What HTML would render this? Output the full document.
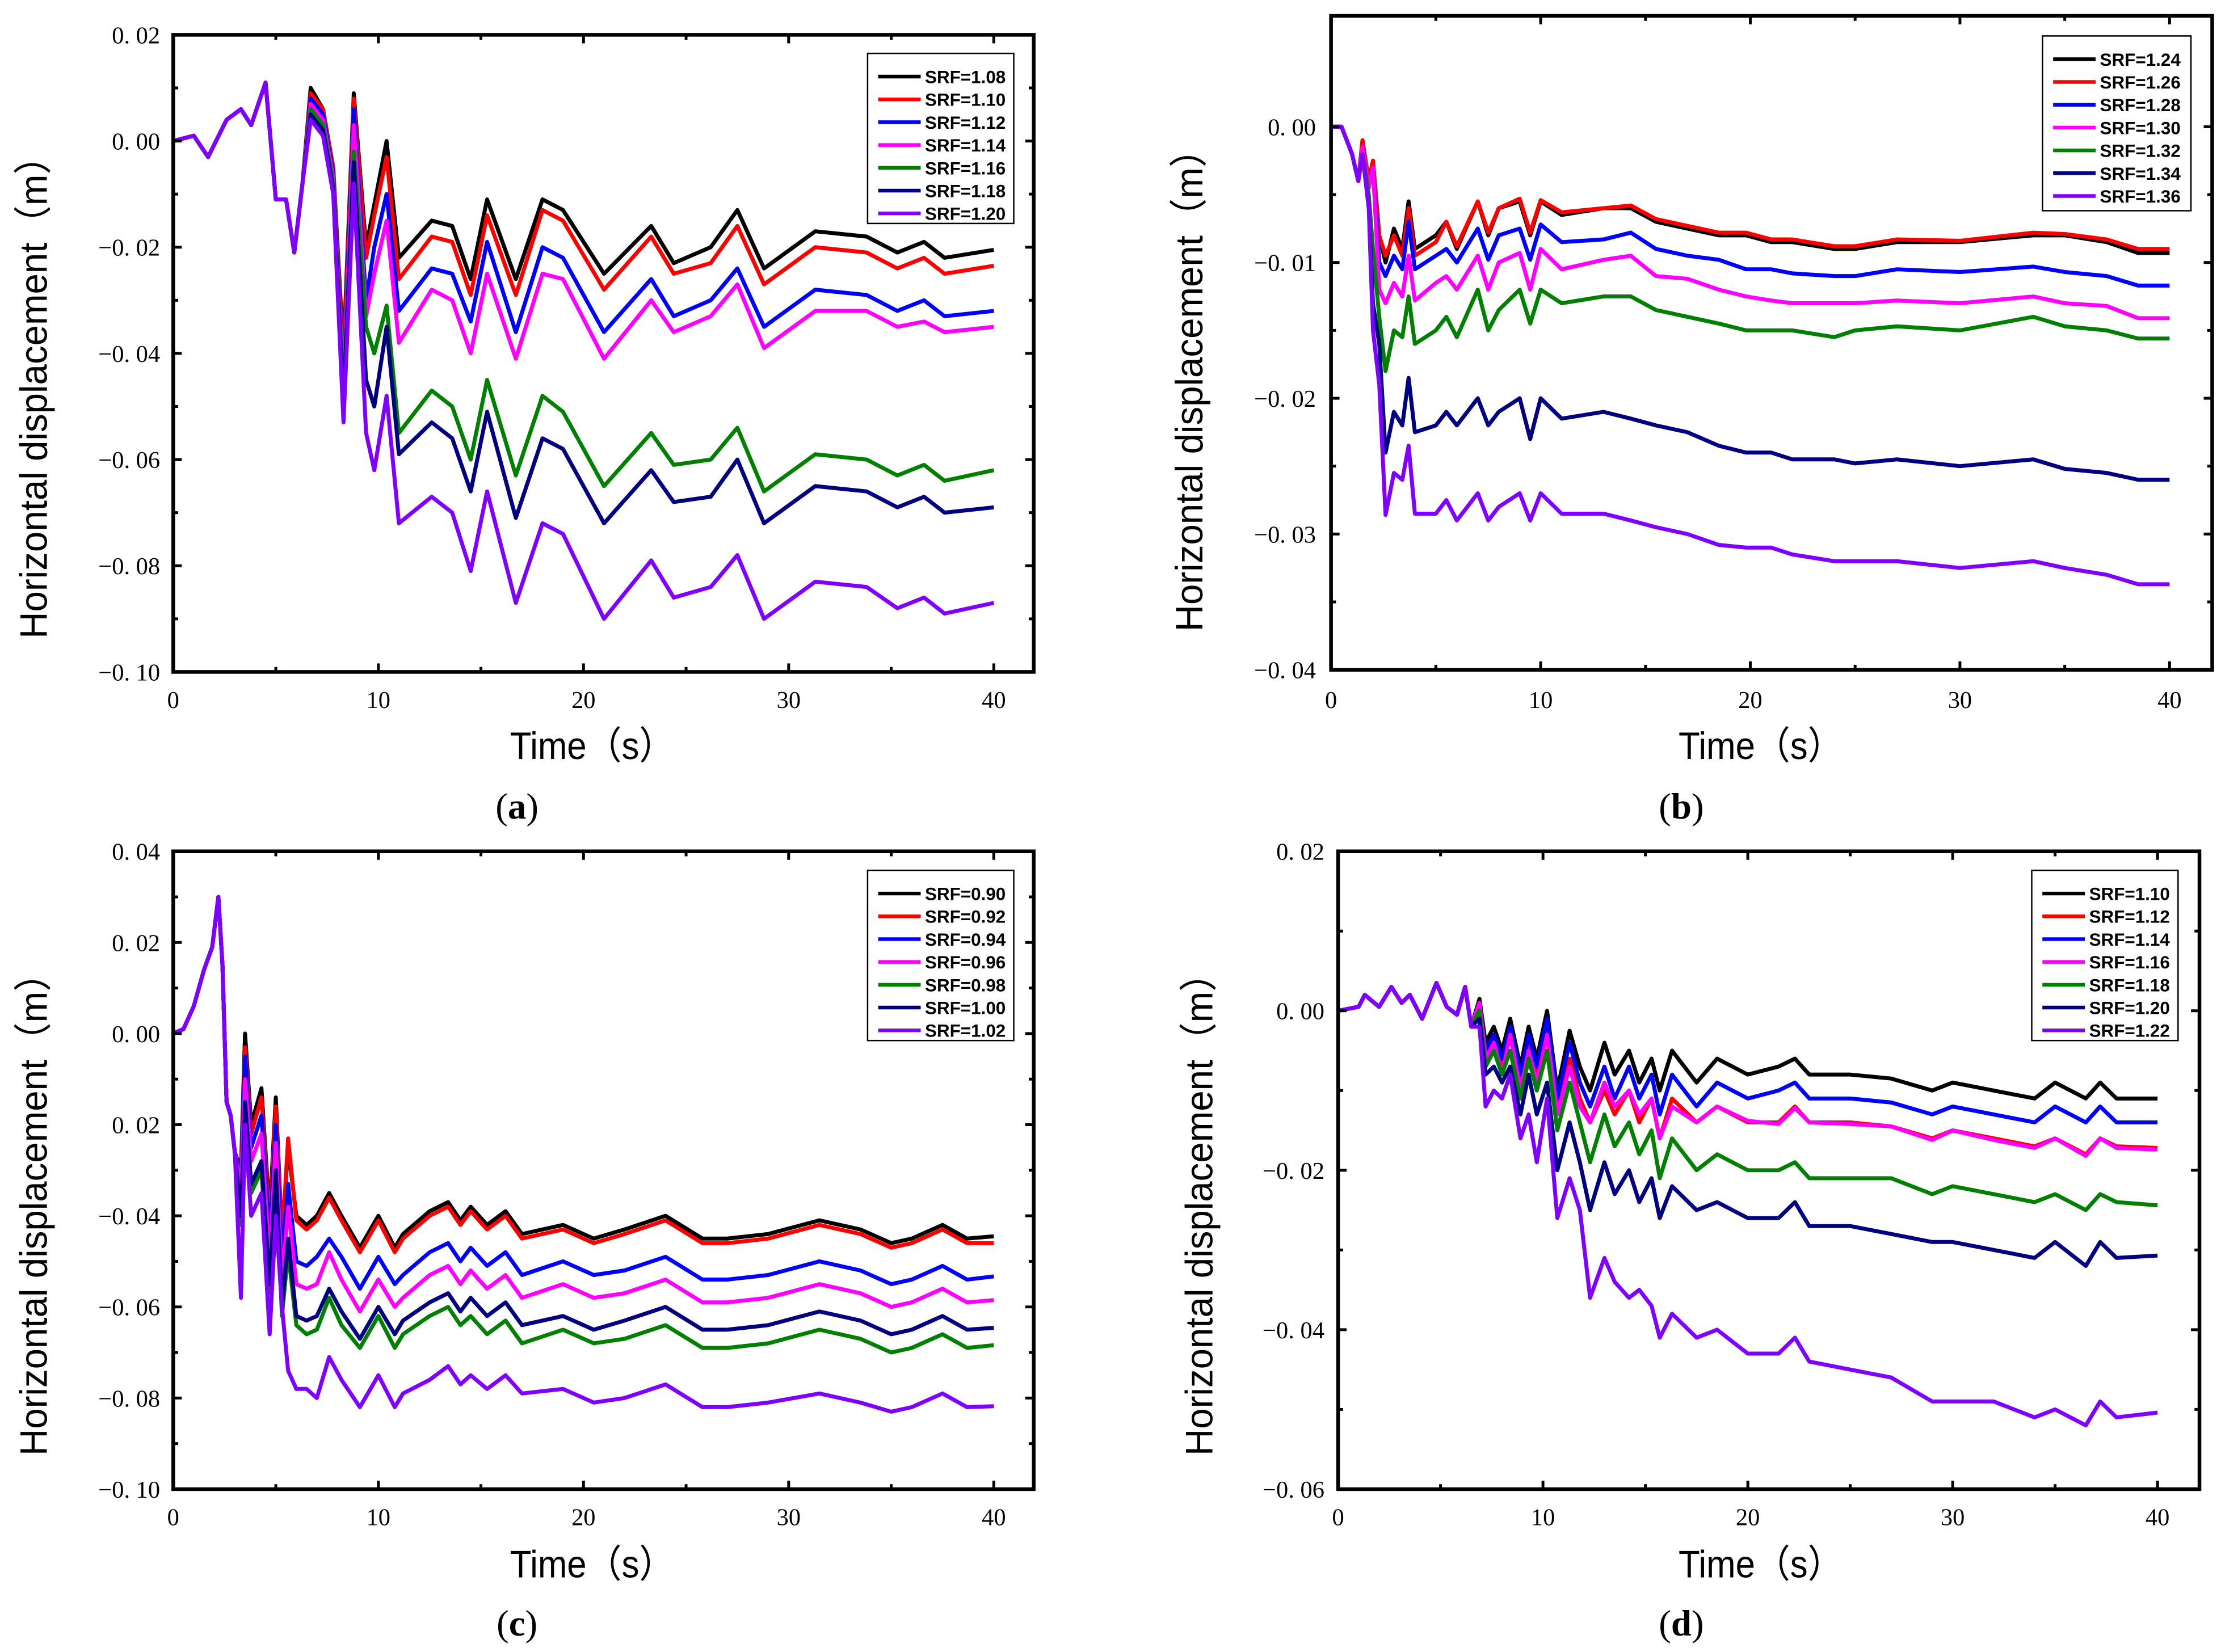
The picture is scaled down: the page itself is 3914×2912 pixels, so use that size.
<!DOCTYPE html>
<html><head><meta charset="utf-8"><style>
html,body{margin:0;padding:0;background:#fff;}
svg{display:block;}
</style></head><body>
<svg id="fig" xmlns="http://www.w3.org/2000/svg" width="3914" height="2912" viewBox="0 0 1568 1166.6">
<rect x="0" y="0" width="1568" height="1166.6" fill="#fff"/>
</svg>
<script>
// ---------- DATA ----------
const colors = ["#000000","#ff0000","#0000ff","#ff00ff","#008000","#000080","#8000ff"];

const labelsA = ["SRF=1.08","SRF=1.10","SRF=1.12","SRF=1.14","SRF=1.16","SRF=1.18","SRF=1.20"];
const timeA = [0,1,1.7,2.6,3.3,3.8,4.5,5.0,5.5,5.9,6.3,6.7,7.3,7.8,8.3,8.8,9.4,9.8,10.4,11.0,12.6,13.6,14.5,15.3,16.7,18.0,19.0,21.0,23.3,24.4,26.2,27.5,28.8,31.3,33.8,35.3,36.6,37.6,40];
const a108 = [0,0.001,-0.003,0.004,0.006,0.003,0.011,-0.011,-0.011,-0.021,-0.008,0.010,0.006,-0.005,-0.040,0.009,-0.020,-0.012,0.000,-0.022,-0.015,-0.016,-0.026,-0.011,-0.026,-0.011,-0.013,-0.025,-0.016,-0.023,-0.020,-0.013,-0.024,-0.017,-0.018,-0.021,-0.019,-0.022,-0.0205];
const a110 = [0,0.001,-0.003,0.004,0.006,0.003,0.011,-0.011,-0.011,-0.021,-0.008,0.009,0.006,-0.005,-0.042,0.008,-0.022,-0.014,-0.003,-0.026,-0.018,-0.019,-0.029,-0.014,-0.029,-0.013,-0.015,-0.028,-0.018,-0.025,-0.023,-0.016,-0.027,-0.020,-0.021,-0.024,-0.022,-0.025,-0.0235];
const a112 = [0,0.001,-0.003,0.004,0.006,0.003,0.011,-0.011,-0.011,-0.021,-0.008,0.008,0.005,-0.006,-0.045,0.006,-0.030,-0.020,-0.010,-0.032,-0.024,-0.025,-0.034,-0.019,-0.036,-0.020,-0.022,-0.036,-0.026,-0.033,-0.030,-0.024,-0.035,-0.028,-0.029,-0.032,-0.030,-0.033,-0.032];
const a114 = [0,0.001,-0.003,0.004,0.006,0.003,0.011,-0.011,-0.011,-0.021,-0.008,0.007,0.004,-0.007,-0.046,0.003,-0.033,-0.025,-0.015,-0.038,-0.028,-0.030,-0.040,-0.025,-0.041,-0.025,-0.026,-0.041,-0.030,-0.036,-0.033,-0.027,-0.039,-0.032,-0.032,-0.035,-0.034,-0.036,-0.035];
const a116 = [0,0.001,-0.003,0.004,0.006,0.003,0.011,-0.011,-0.011,-0.021,-0.008,0.006,0.003,-0.008,-0.048,-0.002,-0.035,-0.040,-0.031,-0.055,-0.047,-0.050,-0.060,-0.045,-0.063,-0.048,-0.051,-0.065,-0.055,-0.061,-0.060,-0.054,-0.066,-0.059,-0.060,-0.063,-0.061,-0.064,-0.062];
const a118 = [0,0.001,-0.003,0.004,0.006,0.003,0.011,-0.011,-0.011,-0.021,-0.008,0.005,0.002,-0.009,-0.050,-0.004,-0.045,-0.050,-0.035,-0.059,-0.053,-0.056,-0.066,-0.051,-0.071,-0.056,-0.058,-0.072,-0.062,-0.068,-0.067,-0.060,-0.072,-0.065,-0.066,-0.069,-0.067,-0.070,-0.069];
const a120 = [0,0.001,-0.003,0.004,0.006,0.003,0.011,-0.011,-0.011,-0.021,-0.008,0.004,0.001,-0.010,-0.053,-0.008,-0.055,-0.062,-0.048,-0.072,-0.067,-0.070,-0.081,-0.066,-0.087,-0.072,-0.074,-0.090,-0.079,-0.086,-0.084,-0.078,-0.090,-0.083,-0.084,-0.088,-0.086,-0.089,-0.087];

const labelsB = ["SRF=1.24","SRF=1.26","SRF=1.28","SRF=1.30","SRF=1.32","SRF=1.34","SRF=1.36"];
const timeB = [0,0.5,1.0,1.3,1.5,1.8,2.0,2.3,2.6,3.0,3.4,3.7,4.0,5.0,5.5,6.0,7.0,7.5,8.0,9.0,9.5,10.0,11,13,14.3,15.5,17,18.5,19.8,21,22,24,25,27,30,33.5,35,37,38.5,40];
const b124 = [0,0,-0.002,-0.004,-0.001,-0.004,-0.0025,-0.008,-0.010,-0.0075,-0.009,-0.0055,-0.009,-0.008,-0.007,-0.009,-0.0055,-0.008,-0.006,-0.0055,-0.008,-0.0055,-0.0065,-0.006,-0.006,-0.007,-0.0075,-0.008,-0.008,-0.0085,-0.0085,-0.009,-0.009,-0.0085,-0.0085,-0.008,-0.008,-0.0085,-0.0093,-0.0093];
const b126 = [0,0,-0.002,-0.004,-0.001,-0.004,-0.0025,-0.008,-0.0095,-0.008,-0.0095,-0.006,-0.0095,-0.0085,-0.007,-0.0088,-0.0055,-0.0078,-0.006,-0.0053,-0.0078,-0.0054,-0.0063,-0.006,-0.0058,-0.0068,-0.0073,-0.0078,-0.0078,-0.0083,-0.0083,-0.0088,-0.0088,-0.0083,-0.0084,-0.0078,-0.0079,-0.0083,-0.009,-0.009];
const b128 = [0,0,-0.002,-0.004,-0.0015,-0.0045,-0.003,-0.010,-0.011,-0.0095,-0.0105,-0.007,-0.0105,-0.0095,-0.009,-0.010,-0.0075,-0.0098,-0.008,-0.0075,-0.0098,-0.0072,-0.0085,-0.0083,-0.0078,-0.009,-0.0095,-0.0098,-0.0105,-0.0105,-0.0108,-0.011,-0.011,-0.0105,-0.0107,-0.0103,-0.0107,-0.011,-0.0117,-0.0117];
const b130 = [0,0,-0.002,-0.004,-0.0015,-0.0045,-0.003,-0.012,-0.013,-0.0115,-0.0125,-0.0095,-0.0128,-0.0115,-0.011,-0.012,-0.0095,-0.012,-0.010,-0.0093,-0.012,-0.009,-0.0105,-0.0098,-0.0095,-0.011,-0.0112,-0.012,-0.0125,-0.0128,-0.013,-0.013,-0.013,-0.0128,-0.013,-0.0125,-0.013,-0.0132,-0.0141,-0.0141];
const b132 = [0,0,-0.002,-0.004,-0.002,-0.005,-0.009,-0.014,-0.018,-0.015,-0.0155,-0.0125,-0.016,-0.015,-0.014,-0.0155,-0.012,-0.015,-0.0135,-0.012,-0.0145,-0.012,-0.013,-0.0125,-0.0125,-0.0135,-0.014,-0.0145,-0.015,-0.015,-0.015,-0.0155,-0.015,-0.0147,-0.015,-0.014,-0.0147,-0.015,-0.0156,-0.0156];
const b134 = [0,0,-0.002,-0.004,-0.002,-0.006,-0.013,-0.016,-0.024,-0.021,-0.022,-0.0185,-0.0225,-0.022,-0.021,-0.022,-0.020,-0.022,-0.021,-0.020,-0.023,-0.020,-0.0215,-0.021,-0.0215,-0.022,-0.0225,-0.0235,-0.024,-0.024,-0.0245,-0.0245,-0.0248,-0.0245,-0.025,-0.0245,-0.0252,-0.0255,-0.026,-0.026];
const b136 = [0,0,-0.002,-0.004,-0.002,-0.006,-0.015,-0.019,-0.0286,-0.0255,-0.026,-0.0235,-0.0285,-0.0285,-0.0275,-0.029,-0.027,-0.029,-0.028,-0.027,-0.029,-0.027,-0.0285,-0.0285,-0.029,-0.0295,-0.030,-0.0308,-0.031,-0.031,-0.0315,-0.032,-0.032,-0.032,-0.0325,-0.032,-0.0325,-0.033,-0.0337,-0.0337];

const labelsC = ["SRF=0.90","SRF=0.92","SRF=0.94","SRF=0.96","SRF=0.98","SRF=1.00","SRF=1.02"];
const timeC = [0,0.5,1.0,1.5,1.9,2.2,2.4,2.6,2.8,3.0,3.3,3.5,3.8,4.3,4.7,5.0,5.3,5.6,6.0,6.5,7.0,7.6,8.2,9.1,10.0,10.8,11.2,12.5,13.4,14.0,14.5,15.3,16.2,17.0,19.0,20.5,22.0,24.0,25.8,27.0,29.0,31.5,33.5,35.0,36.0,37.5,38.7,40];
const c090 = [0,0.001,0.006,0.014,0.019,0.030,0.015,-0.015,-0.018,-0.026,-0.030,0.000,-0.020,-0.012,-0.040,-0.014,-0.045,-0.025,-0.040,-0.042,-0.040,-0.035,-0.040,-0.047,-0.040,-0.047,-0.044,-0.039,-0.037,-0.041,-0.038,-0.042,-0.039,-0.044,-0.042,-0.045,-0.043,-0.040,-0.045,-0.045,-0.044,-0.041,-0.043,-0.046,-0.045,-0.042,-0.045,-0.0445];
const c092 = [0,0.001,0.006,0.014,0.019,0.030,0.015,-0.015,-0.018,-0.026,-0.031,-0.003,-0.022,-0.014,-0.042,-0.016,-0.046,-0.023,-0.041,-0.043,-0.041,-0.036,-0.041,-0.048,-0.041,-0.048,-0.045,-0.040,-0.038,-0.042,-0.039,-0.043,-0.040,-0.045,-0.043,-0.046,-0.044,-0.041,-0.046,-0.046,-0.045,-0.042,-0.044,-0.047,-0.046,-0.043,-0.046,-0.046];
const c094 = [0,0.001,0.006,0.014,0.019,0.030,0.015,-0.015,-0.018,-0.026,-0.032,-0.005,-0.025,-0.018,-0.045,-0.020,-0.050,-0.033,-0.050,-0.051,-0.049,-0.045,-0.049,-0.056,-0.049,-0.055,-0.053,-0.048,-0.046,-0.050,-0.047,-0.051,-0.048,-0.053,-0.050,-0.053,-0.052,-0.049,-0.054,-0.054,-0.053,-0.050,-0.052,-0.055,-0.054,-0.051,-0.054,-0.0533];
const c096 = [0,0.001,0.006,0.014,0.019,0.030,0.015,-0.015,-0.018,-0.026,-0.034,-0.010,-0.028,-0.022,-0.050,-0.024,-0.055,-0.038,-0.055,-0.056,-0.055,-0.048,-0.054,-0.061,-0.054,-0.060,-0.058,-0.053,-0.051,-0.055,-0.052,-0.056,-0.053,-0.058,-0.055,-0.058,-0.057,-0.054,-0.059,-0.059,-0.058,-0.055,-0.057,-0.060,-0.059,-0.056,-0.059,-0.0585];
const c098 = [0,0.001,0.006,0.014,0.019,0.030,0.015,-0.015,-0.018,-0.026,-0.042,-0.018,-0.035,-0.030,-0.057,-0.032,-0.062,-0.048,-0.064,-0.066,-0.065,-0.058,-0.064,-0.069,-0.062,-0.069,-0.066,-0.062,-0.060,-0.064,-0.062,-0.066,-0.063,-0.068,-0.065,-0.068,-0.067,-0.064,-0.069,-0.069,-0.068,-0.065,-0.067,-0.070,-0.069,-0.066,-0.069,-0.0684];
const c100 = [0,0.001,0.006,0.014,0.019,0.030,0.015,-0.015,-0.018,-0.026,-0.040,-0.015,-0.033,-0.028,-0.055,-0.030,-0.060,-0.045,-0.062,-0.063,-0.062,-0.056,-0.061,-0.067,-0.060,-0.066,-0.063,-0.059,-0.057,-0.061,-0.058,-0.062,-0.059,-0.064,-0.062,-0.065,-0.063,-0.060,-0.065,-0.065,-0.064,-0.061,-0.063,-0.066,-0.065,-0.062,-0.065,-0.0646];
const c102 = [0,0.001,0.006,0.014,0.019,0.030,0.015,-0.015,-0.018,-0.026,-0.058,-0.020,-0.040,-0.035,-0.066,-0.040,-0.060,-0.074,-0.078,-0.078,-0.080,-0.071,-0.076,-0.082,-0.075,-0.082,-0.079,-0.076,-0.073,-0.077,-0.075,-0.078,-0.075,-0.079,-0.078,-0.081,-0.080,-0.077,-0.082,-0.082,-0.081,-0.079,-0.081,-0.083,-0.082,-0.079,-0.082,-0.0818];

const labelsD = ["SRF=1.10","SRF=1.12","SRF=1.14","SRF=1.16","SRF=1.18","SRF=1.20","SRF=1.22"];
const timeD = [0,1.0,1.3,2.0,2.6,3.1,3.5,4.1,4.8,5.3,5.8,6.2,6.5,6.9,7.2,7.6,8.0,8.4,8.9,9.3,9.7,10.2,10.7,11.3,11.8,12.3,13.0,13.5,14.2,14.7,15.3,15.7,16.3,17.5,18.5,20,21.5,22.3,23,25,27,29,30,32,34,35,36.5,37.2,38,40];
const d110 = [0,0.0005,0.002,0.0005,0.003,0.001,0.002,-0.001,0.0035,0.0005,-0.0005,0.003,-0.002,0.0015,-0.004,-0.002,-0.005,-0.001,-0.007,-0.002,-0.006,0.000,-0.010,-0.0025,-0.007,-0.010,-0.004,-0.008,-0.005,-0.009,-0.006,-0.010,-0.005,-0.009,-0.006,-0.008,-0.007,-0.006,-0.008,-0.008,-0.0085,-0.010,-0.009,-0.010,-0.011,-0.009,-0.011,-0.009,-0.011,-0.011];
const d112 = [0,0.0005,0.002,0.0005,0.003,0.001,0.002,-0.001,0.0035,0.0005,-0.0005,0.003,-0.002,0.001,-0.005,-0.003,-0.007,-0.003,-0.009,-0.004,-0.008,-0.002,-0.012,-0.006,-0.011,-0.014,-0.010,-0.013,-0.010,-0.014,-0.011,-0.016,-0.011,-0.014,-0.012,-0.014,-0.014,-0.012,-0.014,-0.014,-0.0145,-0.016,-0.015,-0.016,-0.017,-0.016,-0.018,-0.016,-0.017,-0.0172];
const d114 = [0,0.0005,0.002,0.0005,0.003,0.001,0.002,-0.001,0.0035,0.0005,-0.0005,0.003,-0.002,0.001,-0.005,-0.003,-0.006,-0.002,-0.008,-0.003,-0.007,-0.001,-0.011,-0.004,-0.009,-0.012,-0.007,-0.011,-0.007,-0.011,-0.008,-0.013,-0.008,-0.012,-0.009,-0.011,-0.010,-0.009,-0.011,-0.011,-0.0115,-0.013,-0.012,-0.013,-0.014,-0.012,-0.014,-0.012,-0.014,-0.014];
const d116 = [0,0.0005,0.002,0.0005,0.003,0.001,0.002,-0.001,0.0035,0.0005,-0.0005,0.003,-0.002,0.001,-0.006,-0.004,-0.008,-0.003,-0.010,-0.005,-0.009,-0.003,-0.013,-0.007,-0.012,-0.014,-0.009,-0.012,-0.010,-0.013,-0.011,-0.016,-0.012,-0.014,-0.012,-0.0138,-0.0142,-0.0122,-0.014,-0.0142,-0.0145,-0.0162,-0.015,-0.0162,-0.0172,-0.016,-0.0182,-0.016,-0.0172,-0.0174];
const d118 = [0,0.0005,0.002,0.0005,0.003,0.001,0.002,-0.001,0.0035,0.0005,-0.0005,0.003,-0.002,0.000,-0.007,-0.005,-0.008,-0.005,-0.011,-0.006,-0.010,-0.005,-0.015,-0.009,-0.014,-0.019,-0.013,-0.017,-0.014,-0.018,-0.015,-0.021,-0.016,-0.020,-0.018,-0.020,-0.020,-0.019,-0.021,-0.021,-0.021,-0.023,-0.022,-0.023,-0.024,-0.023,-0.025,-0.023,-0.024,-0.0244];
const d120 = [0,0.0005,0.002,0.0005,0.003,0.001,0.002,-0.001,0.0035,0.0005,-0.0005,0.003,-0.002,-0.001,-0.008,-0.007,-0.009,-0.007,-0.013,-0.008,-0.013,-0.009,-0.020,-0.014,-0.019,-0.025,-0.019,-0.023,-0.020,-0.024,-0.021,-0.026,-0.022,-0.025,-0.024,-0.026,-0.026,-0.024,-0.027,-0.027,-0.028,-0.029,-0.029,-0.030,-0.031,-0.029,-0.032,-0.029,-0.031,-0.0307];
const d122 = [0,0.0005,0.002,0.0005,0.003,0.001,0.002,-0.001,0.0035,0.0005,-0.0005,0.003,-0.002,-0.002,-0.012,-0.010,-0.011,-0.008,-0.016,-0.013,-0.019,-0.011,-0.026,-0.021,-0.025,-0.036,-0.031,-0.034,-0.036,-0.035,-0.037,-0.041,-0.038,-0.041,-0.040,-0.043,-0.043,-0.041,-0.044,-0.045,-0.046,-0.049,-0.049,-0.049,-0.051,-0.050,-0.052,-0.049,-0.051,-0.0504];

const yTicksA = [0.02,0.00,-0.02,-0.04,-0.06,-0.08,-0.10];
const yTickLabelsA = ["0. 02","0. 00","−0. 02","−0. 04","−0. 06","−0. 08","−0. 10"];
const yTicksB = [0.00,-0.01,-0.02,-0.03,-0.04];
const yTickLabelsB = ["0. 00","−0. 01","−0. 02","−0. 03","−0. 04"];
const yTicksC = [0.04,0.02,0.00,-0.02,-0.04,-0.06,-0.08,-0.10];
const yTickLabelsC = ["0. 04","0. 02","0. 00","0. 02","−0. 04","−0. 06","−0. 08","−0. 10"];
const yTicksD = [0.02,0.00,-0.02,-0.04,-0.06];
const yTickLabelsD = ["0. 02","0. 00","−0. 02","−0. 04","−0. 06"];
const xTicks = [0,10,20,30,40];
const xTickLabels = ["0","10","20","30","40"];

// ---------- LAYOUT ----------
const NS = "http://www.w3.org/2000/svg";
const svg = document.getElementById('fig');
function mk(tag, attrs, parent){
  const e = document.createElementNS(NS, tag);
  for (const k in attrs) e.setAttribute(k, attrs[k]);
  (parent||svg).appendChild(e);
  return e;
}

const panels = [
  {id:'a', L:122.3, R:729.8, T:24.6, B:474.5, ymax:0.02, ymin:-0.10, x40:701.6, yt:yTicksA, ytl:yTickLabelsA, yminor:0.01,
   times:timeA, series:[a108,a110,a112,a114,a116,a118,a120], labels:labelsA, leg:[612.5,37.7,103.2,120.1],
   ylabX:24, ylabY:274, labX:418, labY:536, capY:578, ytlX:113, xtlY:500},
  {id:'b', L:939.7, R:1561.8, T:11.2, B:473, ymax:0.0081, ymin:-0.04, y0:89.5, x40:1531.7, yt:yTicksB, ytl:yTickLabelsB, yminor:0.005,
   times:timeB, series:[b124,b126,b128,b130,b132,b134,b136], labels:labelsB, leg:[1442,25.4,104.8,123.4],
   ylabX:840, ylabY:269, labX:1243, labY:536, capY:578, ytlX:929, xtlY:500},
  {id:'c', L:122.3, R:729.8, T:601.2, B:1051.6, ymax:0.04, ymin:-0.10, x40:701.6, yt:yTicksC, ytl:yTickLabelsC, yminor:0.01,
   times:timeC, series:[c090,c092,c094,c096,c098,c100,c102], labels:labelsC, leg:[612.5,614.6,103.2,120.2],
   ylabX:24, ylabY:851, labX:418, labY:1114, capY:1155, ytlX:113, xtlY:1077},
  {id:'d', L:944.7, R:1552.8, T:601.2, B:1051.6, ymax:0.02, ymin:-0.06, x40:1523.2, yt:yTicksD, ytl:yTickLabelsD, yminor:0.01,
   times:timeD, series:[d110,d112,d114,d116,d118,d120,d122], labels:labelsD, leg:[1434.4,614.6,103.3,120.2],
   ylabX:847, ylabY:851, labX:1243, labY:1114, capY:1155, ytlX:935, xtlY:1077}
];

panels.forEach(p => {
  const g = mk('g', {});
  
  
  let yScale;
  if (p.id === 'b') {
    const k = (p.B - p.y0) / 0.04;
    yScale = v => p.y0 - v * k;
  } else {
    yScale = v => p.T + (p.ymax - v) / (p.ymax - p.ymin) * (p.B - p.T);
  }
  const xScale = t => p.L + t / 40 * (p.x40 - p.L);

  const cp = mk('clipPath', {id:'clip-' + p.id}, g);
  mk('rect', {x:p.L, y:p.T, width:p.R - p.L, height:p.B - p.T}, cp);

  const sg = mk('g', {'clip-path':'url(#clip-' + p.id + ')'}, g);
  
  
  p.series.forEach((vals, i) => {
    const pts = vals.map((v, j) => xScale(p.times[j]).toFixed(2) + ',' + yScale(v).toFixed(2)).join(' ');
    const pl = mk('polyline', {points:pts, fill:'none', stroke:colors[i], 'stroke-width':2.8, 'stroke-linejoin':'round'}, sg);
    
    
  });

  const fr = mk('rect', {x:p.L, y:p.T, width:p.R - p.L, height:p.B - p.T, fill:'none', stroke:'#000', 'stroke-width':2.6}, g);
  
  

  for (let t = 0; t <= 40; t += 5) {
    const x = xScale(t);
    const len = (t % 10 === 0) ? 6 : 3.5;
    mk('line', {x1:x, y1:p.B, x2:x, y2:p.B - len, stroke:'#000', 'stroke-width':2}, g);
    mk('line', {x1:x, y1:p.T, x2:x, y2:p.T + len, stroke:'#000', 'stroke-width':2}, g);
  }
  xTicks.forEach((t, i) => {
    const tx = mk('text', {x:xScale(t), y:p.xtlY, 'text-anchor':'middle', 'font-family':'"Liberation Serif", serif', 'font-size':17}, g);
    tx.textContent = xTickLabels[i];
    
    
  });
  const top = p.yt[0], bot = p.yt[p.yt.length - 1];
  for (let v = top; v >= bot - 1e-9; v -= p.yminor) {
    const y = yScale(v);
    const major = p.yt.some(m => Math.abs(m - v) < 1e-6);
    const len = major ? 6 : 3.5;
    mk('line', {x1:p.L, y1:y, x2:p.L + len, y2:y, stroke:'#000', 'stroke-width':2}, g);
    mk('line', {x1:p.R, y1:y, x2:p.R - len, y2:y, stroke:'#000', 'stroke-width':2}, g);
  }
  p.yt.forEach((v, i) => {
    const tx = mk('text', {x:p.ytlX, y:yScale(v) + 6, 'text-anchor':'end', 'font-family':'"Liberation Serif", serif', 'font-size':17}, g);
    tx.textContent = p.ytl[i];
    
    
  });

  const yl = mk('text', {x:0, y:0, transform:'translate(' + (p.ylabX + 9) + ',' + p.ylabY + ') rotate(-90)', 'text-anchor':'middle',
    'font-family':'"Liberation Sans", "Noto Sans CJK SC", sans-serif', 'font-size':27, textLength:354, lengthAdjust:'spacingAndGlyphs'}, g);
  yl.textContent = 'Horizontal displacement（m）';
  
  
  const xl = mk('text', {x:p.labX, y:p.labY, 'text-anchor':'middle',
    'font-family':'"Liberation Sans", "Noto Sans CJK SC", sans-serif', 'font-size':27, textLength:116, lengthAdjust:'spacingAndGlyphs'}, g);
  xl.textContent = 'Time（s）';
  
  
  const cap = mk('text', {x:(p.id === 'a' || p.id === 'c') ? 365 : 1187, y:p.capY, 'text-anchor':'middle',
    'font-family':'"Liberation Serif", serif', 'font-size':26}, g);
  cap.innerHTML = '(<tspan font-weight="bold">' + p.id + '</tspan>)';
  
  

  const [lx, ly, lw, lh] = p.leg;
  const lg = mk('g', {}, g);
  
  
  mk('rect', {x:lx, y:ly, width:lw, height:lh, fill:'#fff', stroke:'#000', 'stroke-width':1}, lg);
  p.labels.forEach((lab, i) => {
    const ry = ly + 16.4 + i * 16.1;
    const ent = mk('g', {}, lg);
    
    
    mk('line', {x1:lx + 7.5, y1:ry, x2:lx + 37.5, y2:ry, stroke:colors[i], 'stroke-width':2.6}, ent);
    const t = mk('text', {x:lx + 40.5, y:ry + 4.6, 'font-family':'"Liberation Sans", sans-serif', 'font-weight':'bold', 'font-size':12.5,
      textLength:57, lengthAdjust:'spacingAndGlyphs'}, ent);
    t.textContent = lab;
  });
});
</script>
</body></html>
